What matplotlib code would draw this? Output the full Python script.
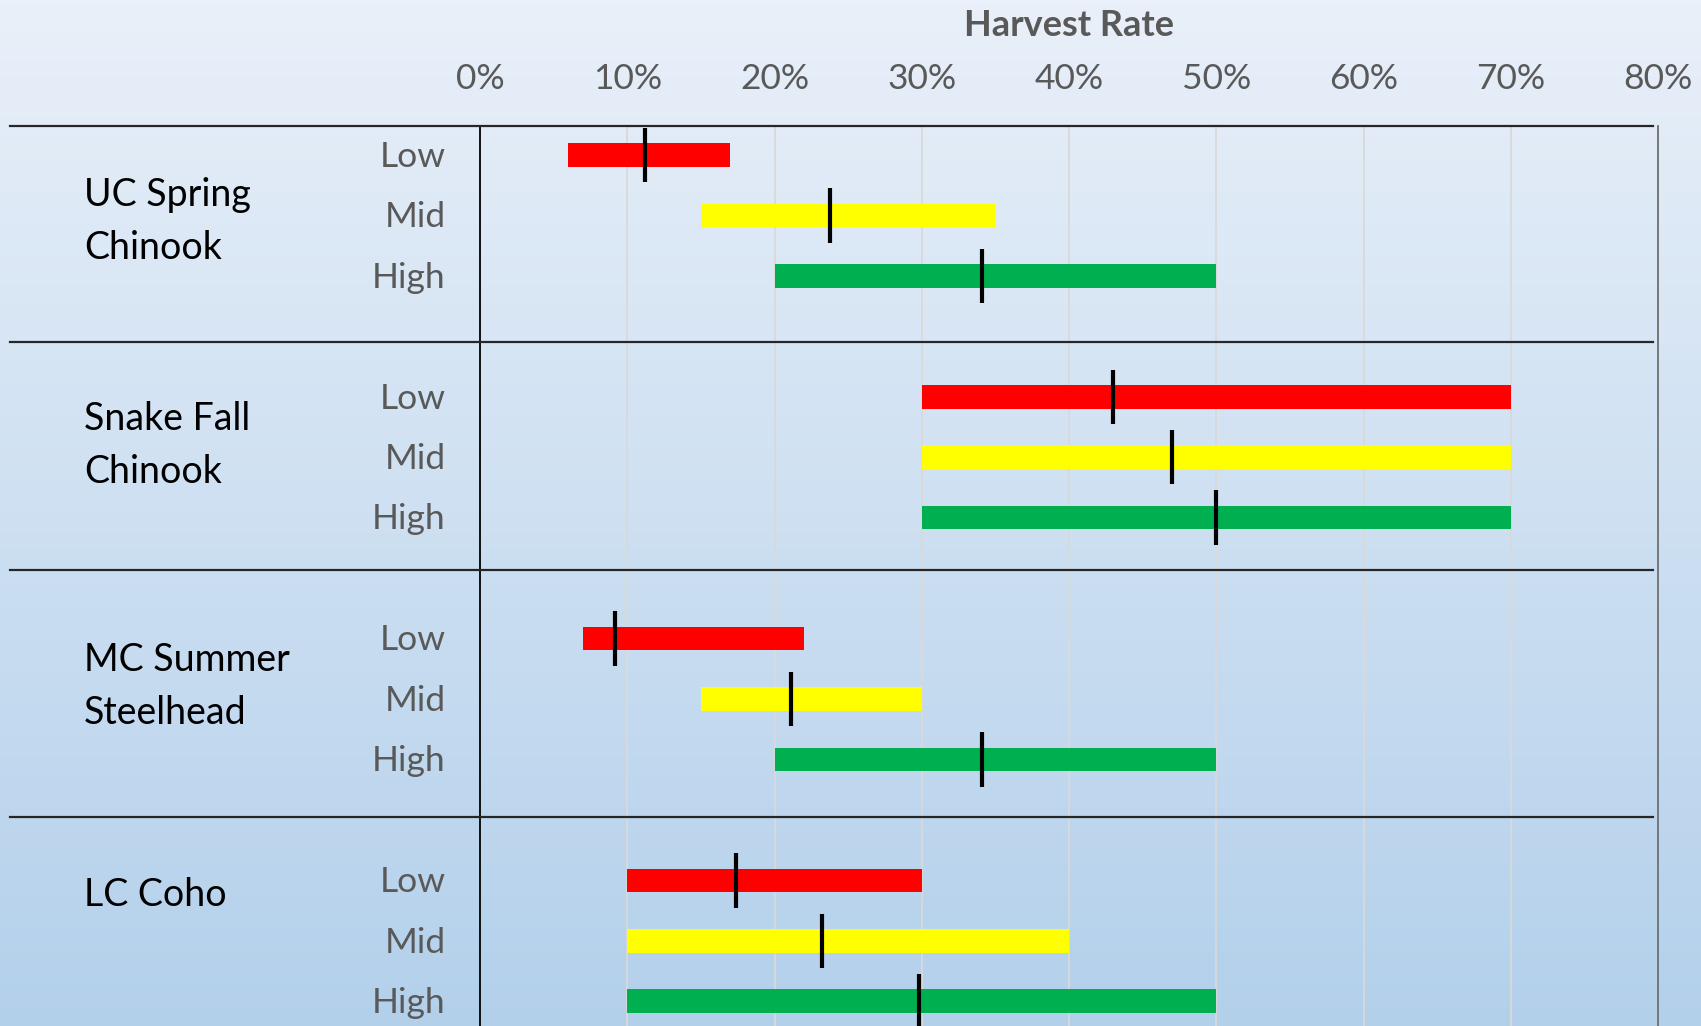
import numpy as np
import matplotlib.pyplot as plt
import matplotlib.transforms as mtransforms

plt.rcParams['font.family'] = ['Lato', 'DejaVu Sans']

# harvest rate ranges per stock and abundance level (fractions)
stocks = ['UC Spring\nChinook', 'Snake Fall\nChinook', 'MC Summer\nSteelhead', 'LC Coho']
levels = ['Low', 'Mid', 'High']
range_lo = [[0.06, 0.15, 0.20],
            [0.30, 0.30, 0.30],
            [0.07, 0.15, 0.20],
            [0.10, 0.10, 0.10]]
range_hi = [[0.17, 0.35, 0.50],
            [0.70, 0.70, 0.70],
            [0.22, 0.30, 0.50],
            [0.30, 0.40, 0.50]]
point_est = [[0.112, 0.238, 0.341],
             [0.430, 0.470, 0.500],
             [0.092, 0.211, 0.341],
             [0.174, 0.232, 0.298]]
level_colors = ['#FF0000', '#FFFF00', '#00B050']
x_ticks = [0.0, 0.1, 0.2, 0.3, 0.4, 0.5, 0.6, 0.7, 0.8]
x_ticklabels = ['0%', '10%', '20%', '30%', '40%', '50%', '60%', '70%', '80%']

# row layout: three rows per stock plus one blank row between stocks
label_y = [1.1, 4.81, 8.79, 12.25]
sep_y = [-0.48, 3.09, 6.87, 10.95]

W, H = 1701, 1026
fig = plt.figure(figsize=(W / 100, H / 100), dpi=100)

# background gradient
bg = fig.add_axes([0, 0, 1, 1], zorder=-10)
top = np.array([233, 240, 249]) / 255
bot = np.array([179, 208, 235]) / 255
t = np.linspace(0, 1, 256)[:, None]
grad = (top * (1 - t) + bot * t)[:, None, :]
bg.imshow(grad, aspect='auto', extent=[0, 1, 0, 1])
bg.axis('off')

ax = fig.add_axes([480 / W, 0, 1178 / W, 1 - 126 / H])
ax.set_facecolor('none')
trans = mtransforms.blended_transform_factory(ax.transAxes, ax.transData)

gray = '#595959'
for g, stock in enumerate(stocks):
    for k, lev in enumerate(levels):
        y = g * 4 + k
        lo = range_lo[g][k]
        hi = range_hi[g][k]
        ax.barh(y, hi - lo, left=lo, height=0.39, color=level_colors[k], zorder=3)
        ax.vlines(point_est[g][k], y - 0.45, y + 0.45, color='black', lw=3, zorder=4)
        ax.text(-0.029, y + 0.03, lev, transform=trans, ha='right', va='center', fontsize=25.5, color=gray)
    ax.text(-0.336, label_y[g], stock, transform=trans, ha='left', va='center',
            fontsize=27, color='black', linespacing=1.6)

# group separators across the full width
for s in sep_y:
    ax.plot([-0.399, 0.996], [s, s], transform=trans, color='#262626', lw=1.6, clip_on=False, zorder=5)

ax.set_xlim(0, 0.8)
ax.set_ylim(14.41, -0.48)
ax.set_xticks(x_ticks)
ax.set_xticklabels(x_ticklabels, fontsize=25.5, color=gray)
ax.xaxis.tick_top()
ax.tick_params(axis='x', length=0, pad=22)
ax.set_yticks([])
ax.grid(axis='x', color='#d9d9d9', lw=1.3, zorder=0)
ax.set_axisbelow(True)

for side in ['top', 'bottom']:
    ax.spines[side].set_visible(False)
ax.spines['left'].set_color('black')
ax.spines['left'].set_linewidth(1.3)
ax.spines['right'].set_color('#6f6f6f')
ax.spines['right'].set_linewidth(1.3)

fig.text((480 + 1178 / 2) / W, 1 - 26 / H, 'Harvest Rate', ha='center', va='center',
         fontsize=26, fontweight='bold', color=gray)

fig.savefig('out.png', dpi=100)
